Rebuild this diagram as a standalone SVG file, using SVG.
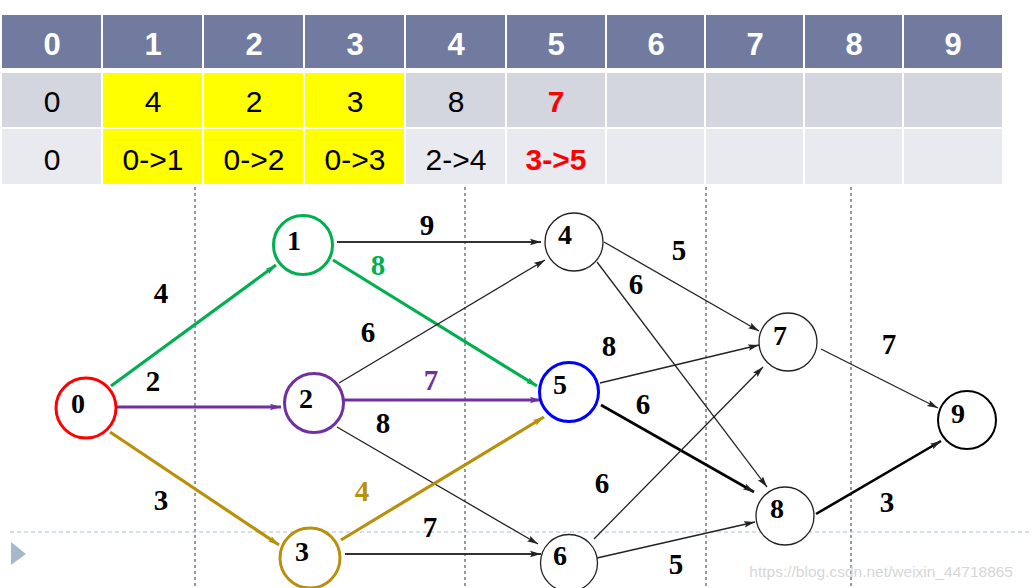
<svg xmlns="http://www.w3.org/2000/svg" width="1032" height="588" viewBox="0 0 1032 588">
<style>
.hd{fill:#717BA0}
.r2{fill:#D3D6DF}
.r3{fill:#E9EAEF}
.y{fill:#FFFF00}
.ht{font-family:"Liberation Sans",Arial,sans-serif;font-weight:bold;font-size:31px;fill:#fff;text-anchor:middle}
.tt{font-family:"Liberation Sans",Arial,sans-serif;font-size:30px;fill:#000;text-anchor:middle}
.red{fill:#FF0000;font-weight:bold}
.grid{stroke:#333;stroke-width:1;stroke-dasharray:3,3;fill:none}
.node{fill:#fff}
.nl{font-family:"Liberation Serif","Times New Roman",serif;font-weight:bold;font-size:28px;fill:#000;text-anchor:middle}
.el{font-family:"Liberation Serif","Times New Roman",serif;font-weight:bold;font-size:29px;fill:#000;text-anchor:middle}
.e{fill:none;stroke:#222;stroke-width:1.3}
.eb{fill:none;stroke:#333;stroke-width:1.8}
.ek{fill:none;stroke:#000;stroke-width:2.6}
.eg{fill:none;stroke:#00B050;stroke-width:3.2}
.ep{fill:none;stroke:#7030A0;stroke-width:3.2}
.eo{fill:none;stroke:#B8900C;stroke-width:3.2}
</style>
<defs>
<marker id="ak" markerUnits="userSpaceOnUse" markerWidth="12" markerHeight="8" refX="11" refY="4" orient="auto"><path d="M0,0.8 L11,4 L0,7.2 L2,4 Z" fill="#222"/></marker>
<marker id="ag" markerUnits="userSpaceOnUse" markerWidth="12" markerHeight="8" refX="11" refY="4" orient="auto"><path d="M0,0.8 L11,4 L0,7.2 L2,4 Z" fill="#00B050"/></marker>
<marker id="ap" markerUnits="userSpaceOnUse" markerWidth="12" markerHeight="8" refX="11" refY="4" orient="auto"><path d="M0,0.8 L11,4 L0,7.2 L2,4 Z" fill="#7030A0"/></marker>
<marker id="ao" markerUnits="userSpaceOnUse" markerWidth="12" markerHeight="8" refX="11" refY="4" orient="auto"><path d="M0,0.8 L11,4 L0,7.2 L2,4 Z" fill="#B8900C"/></marker>
</defs>
<rect width="1032" height="588" fill="#fff"/>

<g id="table">
<rect class="hd" x="2" y="15" width="99" height="53"/>
<rect class="hd" x="103" y="15" width="99" height="53"/>
<rect class="hd" x="204" y="15" width="99" height="53"/>
<rect class="hd" x="305" y="15" width="99" height="53"/>
<rect class="hd" x="406" y="15" width="99" height="53"/>
<rect class="hd" x="507" y="15" width="98" height="53"/>
<rect class="hd" x="607" y="15" width="97" height="53"/>
<rect class="hd" x="706" y="15" width="97" height="53"/>
<rect class="hd" x="805" y="15" width="97" height="53"/>
<rect class="hd" x="904" y="15" width="98" height="53"/>
<text class="ht" x="52" y="55">0</text>
<text class="ht" x="153" y="55">1</text>
<text class="ht" x="254" y="55">2</text>
<text class="ht" x="355" y="55">3</text>
<text class="ht" x="456" y="55">4</text>
<text class="ht" x="556" y="55">5</text>
<text class="ht" x="656" y="55">6</text>
<text class="ht" x="755" y="55">7</text>
<text class="ht" x="854" y="55">8</text>
<text class="ht" x="953" y="55">9</text>

<rect class="r2" x="2" y="73" width="99" height="54"/>
<rect class="y" x="103" y="73" width="99" height="54"/>
<rect class="y" x="204" y="73" width="99" height="54"/>
<rect class="y" x="305" y="73" width="99" height="54"/>
<rect class="r2" x="406" y="73" width="99" height="54"/>
<rect class="r2" x="507" y="73" width="98" height="54"/>
<rect class="r2" x="607" y="73" width="97" height="54"/>
<rect class="r2" x="706" y="73" width="97" height="54"/>
<rect class="r2" x="805" y="73" width="97" height="54"/>
<rect class="r2" x="904" y="73" width="98" height="54"/>
<text class="tt" x="52" y="112">0</text>
<text class="tt" x="153" y="112">4</text>
<text class="tt" x="254" y="112">2</text>
<text class="tt" x="355" y="112">3</text>
<text class="tt" x="456" y="112">8</text>
<text class="tt red" x="556" y="112">7</text>

<rect class="r3" x="2" y="129" width="99" height="55"/>
<rect class="y" x="103" y="129" width="99" height="55"/>
<rect class="y" x="204" y="129" width="99" height="55"/>
<rect class="y" x="305" y="129" width="99" height="55"/>
<rect class="r3" x="406" y="129" width="99" height="55"/>
<rect class="r3" x="507" y="129" width="98" height="55"/>
<rect class="r3" x="607" y="129" width="97" height="55"/>
<rect class="r3" x="706" y="129" width="97" height="55"/>
<rect class="r3" x="805" y="129" width="97" height="55"/>
<rect class="r3" x="904" y="129" width="98" height="55"/>
<text class="tt" x="52" y="170">0</text>
<text class="tt" x="153" y="170">0-&gt;1</text>
<text class="tt" x="254" y="170">0-&gt;2</text>
<text class="tt" x="355" y="170">0-&gt;3</text>
<text class="tt" x="456" y="170">2-&gt;4</text>
<text class="tt red" x="556" y="170">3-&gt;5</text>
</g>

<g id="guides">
<line class="grid" x1="195" y1="187" x2="195" y2="588"/>
<line class="grid" x1="465" y1="187" x2="465" y2="588"/>
<line class="grid" x1="706" y1="187" x2="706" y2="588"/>
<line class="grid" x1="851" y1="187" x2="851" y2="588"/>
<line x1="10" y1="532" x2="1032" y2="532" stroke="#A9C0D6" stroke-width="1" stroke-dasharray="4,3"/>
<polygon points="11,542 26,554 11,565" fill="#A6B9CC"/>
</g>

<g id="connectors">
<line class="eg" x1="111" y1="386" x2="276" y2="265" marker-end="url(#ag)"/>
<line class="ep" x1="116" y1="407" x2="281" y2="407" marker-end="url(#ap)"/>
<line class="eo" x1="110" y1="432" x2="279" y2="545" marker-end="url(#ao)"/>
<line class="eb" x1="337" y1="242" x2="541" y2="242" marker-end="url(#ak)"/>
<line class="eg" x1="333" y1="260" x2="537" y2="386" marker-end="url(#ag)"/>
<line class="e" x1="339" y1="383" x2="545" y2="260" marker-end="url(#ak)"/>
<line class="ep" x1="343" y1="400" x2="541" y2="400" marker-end="url(#ap)"/>
<line class="e" x1="337" y1="427" x2="538" y2="544" marker-end="url(#ak)"/>
<line class="eo" x1="341" y1="540" x2="544" y2="417" marker-end="url(#ao)"/>
<line class="eb" x1="345" y1="554" x2="541" y2="554" marker-end="url(#ak)"/>
<line class="e" x1="604" y1="242" x2="759" y2="331" marker-end="url(#ak)"/>
<line class="e" x1="597" y1="262" x2="767" y2="487" marker-end="url(#ak)"/>
<line class="e" x1="600" y1="383" x2="759" y2="345" marker-end="url(#ak)"/>
<line class="ek" x1="601" y1="405" x2="754" y2="492" marker-end="url(#ak)"/>
<line class="e" x1="594" y1="539" x2="763" y2="367" marker-end="url(#ak)"/>
<line class="e" x1="597" y1="558" x2="755" y2="522" marker-end="url(#ak)"/>
<line class="e" x1="821" y1="349" x2="938" y2="408" marker-end="url(#ak)"/>
<line class="ek" x1="816" y1="514" x2="941" y2="441" marker-end="url(#ak)"/>
</g>

<g id="edge-labels">
<text class="el" x="161" y="303">4</text>
<text class="el" x="153" y="391">2</text>
<text class="el" x="161" y="510">3</text>
<text class="el" x="427" y="235">9</text>
<text class="el" x="378" y="275" style="fill:#00B050">8</text>
<text class="el" x="368" y="342">6</text>
<text class="el" x="431" y="390" style="fill:#7030A0">7</text>
<text class="el" x="383" y="433">8</text>
<text class="el" x="362" y="501" style="fill:#B8900C">4</text>
<text class="el" x="430" y="537">7</text>
<text class="el" x="679" y="260">5</text>
<text class="el" x="636" y="294">6</text>
<text class="el" x="609" y="356">8</text>
<text class="el" x="889" y="354">7</text>
<text class="el" x="643" y="414">6</text>
<text class="el" x="602" y="493">6</text>
<text class="el" x="887" y="512">3</text>
<text class="el" x="676" y="574">5</text>
</g>

<g id="node0"><circle class="node" cx="86" cy="408" r="30" stroke="#FF0000" stroke-width="3"/><text class="nl" x="78" y="413">0</text></g>
<g id="node1"><circle class="node" cx="303" cy="245" r="29.5" stroke="#00B050" stroke-width="3"/><text class="nl" x="294" y="250">1</text></g>
<g id="node2"><circle class="node" cx="314" cy="403" r="29.5" stroke="#7030A0" stroke-width="3"/><text class="nl" x="306" y="408">2</text></g>
<g id="node3"><circle class="node" cx="310" cy="558" r="30" stroke="#B8900C" stroke-width="3"/><text class="nl" x="302" y="561">3</text></g>
<g id="node4"><circle class="node" cx="574" cy="242" r="29" stroke="#222" stroke-width="1.3"/><text class="nl" x="565" y="244">4</text></g>
<g id="node5"><circle class="node" cx="569" cy="392" r="29.5" stroke="#0000FF" stroke-width="3"/><text class="nl" x="560" y="394">5</text></g>
<g id="node6"><circle class="node" cx="569" cy="563" r="28.5" stroke="#222" stroke-width="1.3"/><text class="nl" x="560" y="565">6</text></g>
<g id="node7"><circle class="node" cx="788" cy="342" r="29" stroke="#222" stroke-width="1.3"/><text class="nl" x="780" y="345">7</text></g>
<g id="node8"><circle class="node" cx="785" cy="516" r="29" stroke="#222" stroke-width="1.3"/><text class="nl" x="777" y="518">8</text></g>
<g id="node9"><circle class="node" cx="967" cy="420" r="29" stroke="#000" stroke-width="2"/><text class="nl" x="958" y="423">9</text></g>

<text x="1013" y="577" font-family="Liberation Sans,Arial,sans-serif" font-size="15.5" fill="#D6D6D6" text-anchor="end">https://blog.csdn.net/weixin_44718865</text>
</svg>
